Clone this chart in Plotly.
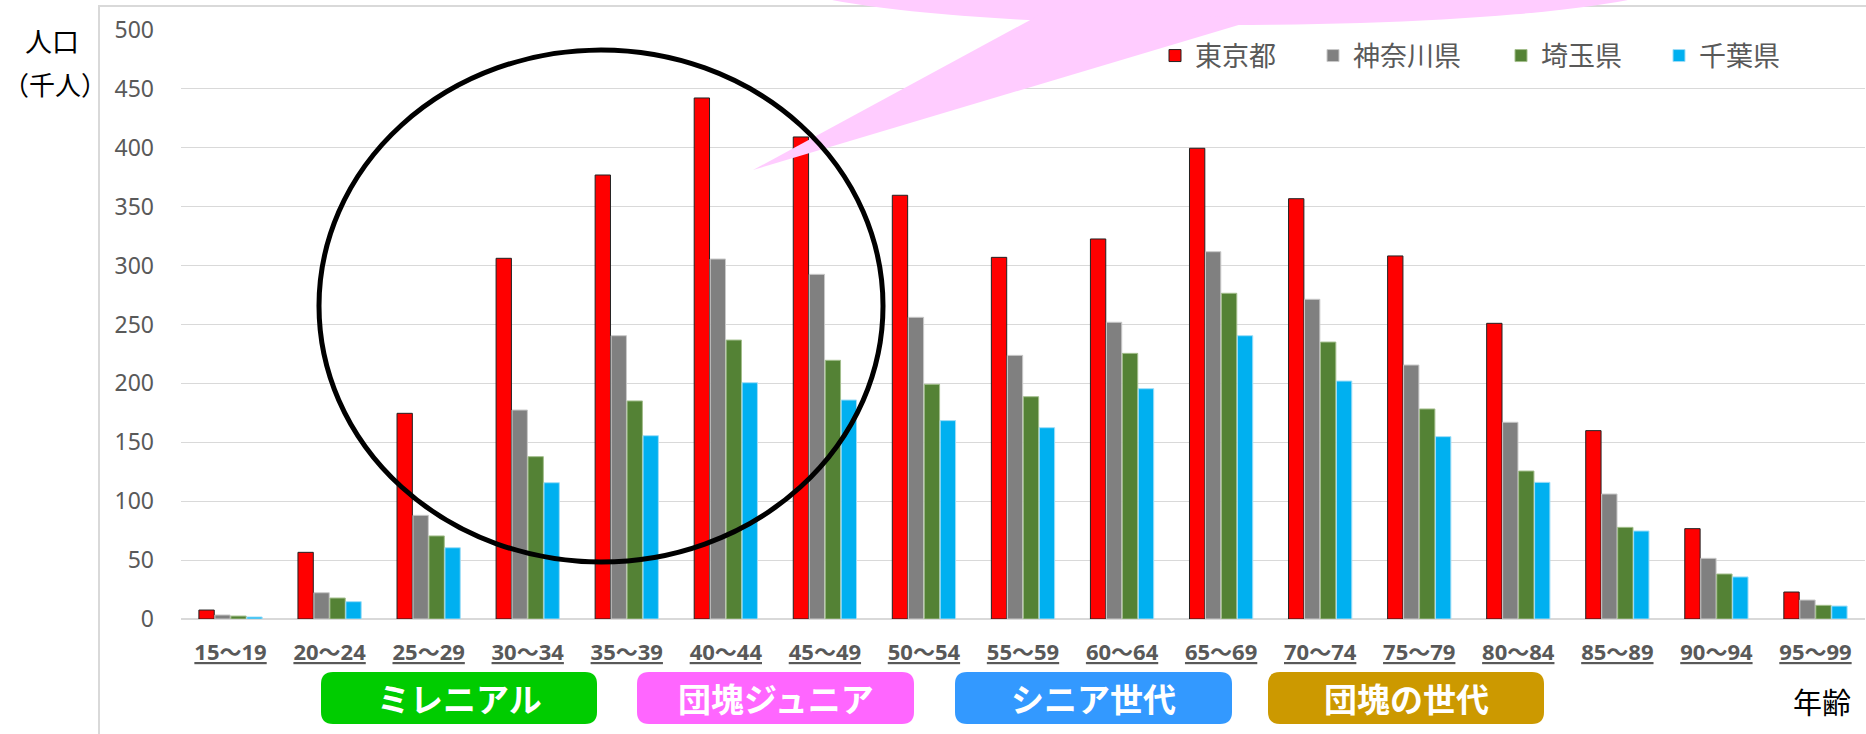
import plotly.graph_objects as go

# ---------------- data ----------------
categories = ["15～19", "20～24", "25～29", "30～34", "35～39", "40～44", "45～49",
              "50～54", "55～59", "60～64", "65～69", "70～74", "75～79", "80～84",
              "85～89", "90～94", "95～99"]
tokyo    = [7.6, 56.6, 174.6, 306.2, 376.9, 442.3, 409.2, 359.7, 307.0, 322.6, 399.6, 356.8, 308.2, 251.0, 159.9, 76.7, 22.9]
kanagawa = [3.4, 22.3, 88.0, 177.4, 240.5, 305.6, 292.6, 256.1, 223.8, 251.9, 311.8, 271.4, 215.6, 167.0, 106.1, 51.5, 16.1]
saitama  = [2.5, 17.8, 70.5, 137.8, 185.1, 236.8, 219.6, 199.2, 188.7, 225.5, 276.5, 235.1, 178.3, 125.6, 77.8, 38.2, 11.6]
chiba    = [1.7, 14.7, 60.5, 115.7, 155.6, 200.6, 185.9, 168.4, 162.4, 195.5, 240.5, 202.0, 154.8, 116.0, 74.7, 35.7, 11.0]
series_names = ["東京都", "神奈川県", "埼玉県", "千葉県"]
y_ticks = [0, 50, 100, 150, 200, 250, 300, 350, 400, 450, 500]
generations = ["ミレニアル", "団塊ジュニア", "シニア世代", "団塊の世代"]
y_title = ["人口", "（千人）"]
x_title = "年齢"

# ---------------- styles ----------------
W, H = 1866, 734
ML, MR, MT, MB = 181, 1, 30, 115
PW, PH = W - ML - MR, H - MT - MB
CJK = "Noto Sans CJK JP"
GRAY_TXT = "#595959"

def px(xp):
    return (xp - ML) / PW

def py(yp):
    return (H - MB - yp) / PH

series_colors = ["#FF0000", "#808080", "#548235", "#00B0F0"]
series_lines = ["#222222", "#C9C9C9", "#A3BE8C", "#9EDDF7"]
series_values = [tokyo, kanagawa, saitama, chiba]
legend_ids = ["legend", "legend2", "legend3", "legend4"]
legend_sq_px = [1175, 1333, 1521, 1679]

fig = go.Figure()
for name, vals, col, lc, lid in zip(series_names, series_values, series_colors, series_lines, legend_ids):
    fig.add_trace(go.Bar(
        x=categories, y=vals, name=name,
        marker=dict(color=col, line=dict(color=lc, width=1)),
        legend=lid, showlegend=True,
    ))

legend_common = dict(
    orientation="h", xanchor="left", yanchor="middle", visible=True,
    font=dict(family=CJK, size=27, color=GRAY_TXT),
    bgcolor="rgba(0,0,0,0)", borderwidth=0, itemwidth=30,
)
layout_legends = {}
for lid, sx in zip(legend_ids, legend_sq_px):
    layout_legends[lid] = dict(legend_common, x=px(sx - 20), y=py(56))

shapes = []
# outer chart frame
shapes.append(dict(type="rect", xref="paper", yref="paper",
                   x0=px(99), x1=px(1920), y0=py(6), y1=py(800),
                   line=dict(color="#D9D9D9", width=2), fillcolor="rgba(0,0,0,0)", layer="below"))
# pink speech bubble
shapes.append(dict(type="circle", xref="paper", yref="paper",
                   x0=px(780), x1=px(1680), y0=py(-69), y1=py(25),
                   line=dict(width=0), fillcolor="#FFCCFF", layer="above"))
tail = [(1045, 12), (753, 170), (1262, 18)]
path = "M " + " L ".join(f"{px(a):.5f},{py(b):.5f}" for a, b in tail) + " Z"
shapes.append(dict(type="path", xref="paper", yref="paper", path=path,
                   line=dict(width=0), fillcolor="#FFCCFF", layer="above"))
# black ellipse
shapes.append(dict(type="circle", xref="paper", yref="paper",
                   x0=px(319), x1=px(883), y0=py(562), y1=py(50),
                   line=dict(color="black", width=5), fillcolor="rgba(0,0,0,0)", layer="above"))

# generation boxes
gen_boxes = [(321, 597), (637, 914), (955, 1232), (1268, 1544)]
gen_colors = ["#00CC00", "#FF66FF", "#3399FF", "#CC9900"]
BT, BB, R = 672, 724, 12

def rounded(x0, x1, y0, y1, r):
    pts = [
        f"M {px(x0 + r)},{py(y0)}",
        f"L {px(x1 - r)},{py(y0)}",
        f"Q {px(x1)},{py(y0)} {px(x1)},{py(y0 + r)}",
        f"L {px(x1)},{py(y1 - r)}",
        f"Q {px(x1)},{py(y1)} {px(x1 - r)},{py(y1)}",
        f"L {px(x0 + r)},{py(y1)}",
        f"Q {px(x0)},{py(y1)} {px(x0)},{py(y1 - r)}",
        f"L {px(x0)},{py(y0 + r)}",
        f"Q {px(x0)},{py(y0)} {px(x0 + r)},{py(y0)}",
        "Z",
    ]
    return " ".join(pts)

annotations = []
for (a, b), col, txt in zip(gen_boxes, gen_colors, generations):
    shapes.append(dict(type="path", xref="paper", yref="paper", path=rounded(a, b, BT, BB, R),
                       line=dict(width=0), fillcolor=col, layer="above"))
    annotations.append(dict(xref="paper", yref="paper", x=px((a + b) / 2), y=py((BT + BB) / 2),
                            text=f"<b>{txt}</b>", showarrow=False, xanchor="center", yanchor="middle",
                            font=dict(family=CJK, size=33, color="white")))

annotations.append(dict(xref="paper", yref="paper", x=px(1822), y=py(701), text=x_title,
                        showarrow=False, xanchor="center", yanchor="middle",
                        font=dict(family=CJK, size=29, color="black")))
annotations.append(dict(xref="paper", yref="paper", x=px(52), y=py(41), text=y_title[0],
                        showarrow=False, xanchor="center", yanchor="middle",
                        font=dict(family=CJK, size=27, color="black")))
annotations.append(dict(xref="paper", yref="paper", x=px(1), y=py(84), text=y_title[1],
                        showarrow=False, xanchor="left", yanchor="middle",
                        font=dict(family=CJK, size=26, color="black")))

fig.update_layout(
    width=W, height=H,
    margin=dict(l=ML, r=MR, t=MT, b=MB, pad=0),
    paper_bgcolor="white", plot_bgcolor="white",
    barmode="group", bargap=0.355, bargroupgap=0.04,
    showlegend=True,
    shapes=shapes, annotations=annotations,
    **layout_legends,
)
fig.update_xaxes(
    type="category", showgrid=False, showline=False, zeroline=False,
    ticks="", ticklabelstandoff=18,
    tickfont=dict(family="Noto Sans, " + CJK, size=22, color=GRAY_TXT, weight="bold", lineposition="under"),
)
fig.update_yaxes(
    range=[0, 500], tickvals=y_ticks, showgrid=True, gridcolor="#D9D9D9", gridwidth=1,
    zeroline=True, zerolinecolor="#D9D9D9", zerolinewidth=2,
    showline=False, ticks="", ticklabelstandoff=26,
    tickfont=dict(family="Noto Sans, " + CJK, size=23, color=GRAY_TXT),
)

fig.write_html("out.html", config={"displayModeBar": False},
               post_script="document.body.style.margin='0px';")
